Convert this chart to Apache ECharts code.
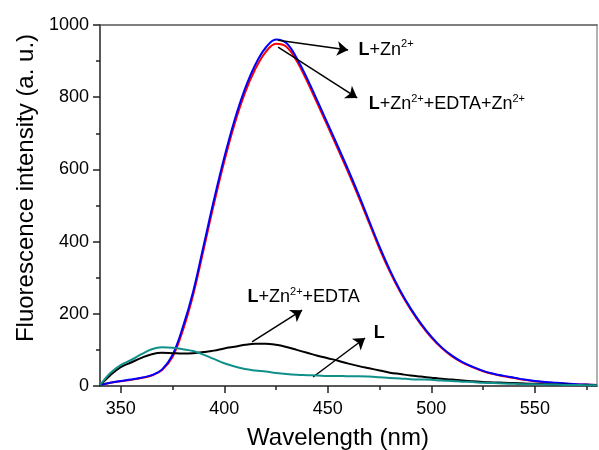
<!DOCTYPE html>
<html><head><meta charset="utf-8">
<script src="https://cdn.jsdelivr.net/npm/echarts@6/dist/echarts.min.js"></script>
<style>html,body{margin:0;padding:0;background:#fff}#c{width:599px;height:450px}</style>
</head><body><div id="c"></div>
<script>
const wavelength = [340,345,350,355,360,365,370,375,380,385,390,395,400,405,410,415,420,425,430,435,440,445,450,455,460,465,470,475,480,485,490,495,500,505,510,515,520,525,530,535,540,545,550,555,560,565,570,575,580];
const seriesLZn = [3,9,14,18,23,30,46,86,163,262,388,515,633,737,823,890,937,960,950,908,852,790,726,662,597,529,457,386,321,264,215,173,137,107,84,66,53,42,34,28,23,18,14,11,9,7,5,4,3];
const seriesLZnEdtaZn = [3,9,13,17,22,29,44,80,154,253,377,504,622,726,812,878,925,948,940,900,844,782,719,655,590,522,451,380,316,260,212,170,134,105,82,65,52,41,33,27,22,17,13,10,8,6,5,4,3];
const seriesLZnEdta = [2,30,52,65,78,88,92,91,90,91,94,98,104,109,114,117,117,114,108,100,92,84,77,70,62,55,49,43,37,33,29,26,23,20,18,15,13,11,10,9,8,7,6,5,4,4,3,3,2];
const seriesL = [2,36,58,72,88,102,107,106,102,97,87,75,63,54,47,43,40,36,33,31,30,29,28,28,27,27,26,24,22,21,19,18,17,15,14,12,11,9,8,7,6,5,5,4,4,3,3,2,2];
const xMajorTicks = [350,400,450,500,550];
const xMinorTicks = [375,425,475,525,575];
// annotation arrows: [startWavelength, startValue, endWavelength, endValue]
const arrowLines = [
  [426, 958, 459.8, 931],
  [426, 939, 464.2, 798],
  [413.4, 122, 437.6, 210],
  [442.9, 25, 468, 133]
];
// annotation labels: [wavelength, value, rich text]
const labelTexts = [
  [464.6, 931, '{b|L}{n|+Zn}{s|2+}'],
  [469.5, 781, '{b|L}{n|+Zn}{s|2+}{n|+EDTA+Zn}{s|2+}'],
  [411, 246, '{b|L}{n|+Zn}{s|2+}{n|+EDTA}'],
  [471.9, 147, '{b|L}']
];

const FONT = 'Liberation Sans, Arial, sans-serif';
const pair = arr => wavelength.map((w, i) => [w, arr[i]]);
const chart = echarts.init(document.getElementById('c'), null, {renderer: 'canvas'});
const richStyles = {
  b: {fontFamily: FONT, fontSize: 18, fontWeight: 'bold', color: '#000', lineHeight: 22},
  n: {fontFamily: FONT, fontSize: 18, color: '#000', lineHeight: 22},
  s: {fontFamily: FONT, fontSize: 11, color: '#000', verticalAlign: 'top', lineHeight: 12}
};
const lineCommon = {showSymbol: false, smooth: 0.4};
const option = {
  animation: false,
  backgroundColor: '#fff',
  grid: {left: 100, right: 2, top: 25, bottom: 64, containLabel: false, outerBoundsMode: 'none'},
  xAxis: [
    {
      type: 'value', min: 340, max: 580, position: 'bottom',
      name: 'Wavelength (nm)', nameLocation: 'middle', nameGap: 40,
      nameTextStyle: {fontFamily: FONT, fontSize: 24, color: '#000', padding: [0, 21, 0, 0]},
      axisLine: {show: true, lineStyle: {color: '#222', width: 1.5}},
      axisTick: {show: true, inside: false, length: 7, customValues: xMajorTicks, lineStyle: {color: '#222', width: 1.5}},
      axisLabel: {show: true, customValues: xMajorTicks, margin: 14, fontFamily: FONT, fontSize: 18, color: '#000'},
      splitLine: {show: false}
    },
    {
      type: 'value', min: 340, max: 580, position: 'bottom',
      axisLine: {show: false},
      axisTick: {show: true, inside: false, length: 4, customValues: xMinorTicks, lineStyle: {color: '#222', width: 1.5}},
      axisLabel: {show: false},
      splitLine: {show: false}
    },
    {
      type: 'value', min: 340, max: 580, position: 'top',
      axisLine: {show: true, lineStyle: {color: '#555', width: 1.5}},
      axisTick: {show: false}, axisLabel: {show: false}, splitLine: {show: false}
    }
  ],
  yAxis: [
    {
      type: 'value', min: 0, max: 1000, interval: 200, position: 'left',
      name: 'Fluorescence intensity (a. u.)', nameLocation: 'middle', nameGap: 59,
      nameTextStyle: {fontFamily: FONT, fontSize: 24, color: '#000', padding: [0, 0, 0, 35]},
      axisLine: {show: true, lineStyle: {color: '#222', width: 1.5}},
      axisTick: {show: true, inside: false, length: 7, lineStyle: {color: '#222', width: 1.5}},
      minorTick: {show: true, splitNumber: 2, length: 4, lineStyle: {color: '#222', width: 1.5}},
      axisLabel: {margin: 11, fontFamily: FONT, fontSize: 18, color: '#000', formatter: v => String(v)},
      splitLine: {show: false}, minorSplitLine: {show: false}
    },
    {
      type: 'value', min: 0, max: 1000, position: 'right',
      axisLine: {show: true, lineStyle: {color: '#999', width: 1.5}},
      axisTick: {show: false}, axisLabel: {show: false}, splitLine: {show: false}
    }
  ],
  series: [
    Object.assign({type: 'line', name: 'L+Zn2+EDTA+Zn2+', data: pair(seriesLZnEdtaZn),
     lineStyle: {color: '#ff0000', width: 2}, itemStyle: {color: '#ff0000'}, z: 2}, lineCommon),
    Object.assign({type: 'line', name: 'L+Zn2+', data: pair(seriesLZn),
     lineStyle: {color: '#0000ff', width: 2}, itemStyle: {color: '#0000ff'}, z: 3}, lineCommon),
    Object.assign({type: 'line', name: 'L+Zn2+EDTA', data: pair(seriesLZnEdta),
     lineStyle: {color: '#000000', width: 2}, itemStyle: {color: '#000'}, z: 4}, lineCommon),
    Object.assign({type: 'line', name: 'L', data: pair(seriesL),
     lineStyle: {color: '#10908a', width: 2}, itemStyle: {color: '#10908a'}, z: 5,
     markLine: {
       silent: true, symbol: ['none', 'arrow'], symbolSize: 11, animation: false,
       itemStyle: {color: '#000'},
       lineStyle: {color: '#000', width: 1.5, type: 'solid'},
       label: {show: false},
       data: arrowLines.map(a => [
         {coord: [a[0], a[1]], symbol: 'none'},
         {coord: [a[2], a[3]], symbol: 'arrow', symbolSize: 11}
       ])
     },
     markPoint: {
       silent: true, symbol: 'circle', symbolSize: 1, itemStyle: {color: 'rgba(0,0,0,0)'},
       animation: false,
       label: {show: true, position: 'right', distance: 0, rich: richStyles},
       data: labelTexts.map(t => ({coord: [t[0], t[1]], value: t[2], label: {formatter: t[2], rich: richStyles}}))
     }
    }, lineCommon)
  ]
};
chart.setOption(option);
</script>
</body></html>
